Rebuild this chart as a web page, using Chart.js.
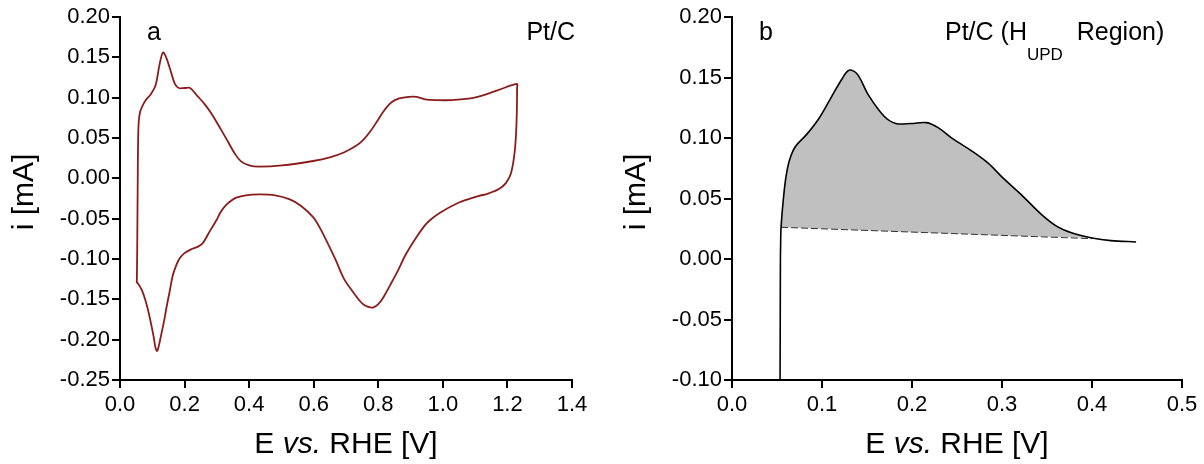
<!DOCTYPE html>
<html>
<head>
<meta charset="utf-8">
<script src="https://cdn.jsdelivr.net/npm/chart.js@4.4.1/dist/chart.umd.min.js"></script>
<style>
  html, body { margin: 0; padding: 0; background: #fff; }
  #wrap { position: relative; width: 1204px; height: 464px; overflow: hidden; }
  #ca { position: absolute; left: 0; top: 0; }
  #cb { position: absolute; left: 600px; top: 0; }
</style>
</head>
<body>
<div id="wrap">
  <canvas id="ca" width="600" height="464"></canvas>
  <canvas id="cb" width="604" height="464"></canvas>
</div>
<script>
// ---------- Data: panel a (full CV, Pt/C) ----------
const cvE = [0.052,0.053,0.054,0.055,0.056,0.058,0.062,0.070,0.080,0.095,0.110,0.122,0.133,0.143,0.157,0.170,0.182,0.200,0.217,0.240,0.262,0.282,0.312,0.335,0.355,0.375,0.400,0.431,0.502,0.598,0.650,0.693,0.730,0.752,0.775,0.800,0.820,0.840,0.865,0.895,0.919,0.945,0.980,1.026,1.098,1.169,1.229,
  1.230,1.229,1.226,1.220,1.210,1.195,1.175,1.140,1.110,1.050,0.990,0.960,0.943,0.915,0.883,0.860,0.836,0.815,0.800,0.785,0.776,0.760,0.745,0.720,0.693,0.670,0.645,0.620,0.598,0.560,0.526,0.480,0.431,0.390,0.360,0.340,0.324,0.310,0.300,0.288,0.276,0.265,0.255,0.240,0.220,0.199,0.185,0.175,0.163,0.154,0.145,0.136,0.127,0.120,0.115,0.110,0.104,0.095,0.086,0.077,0.068,0.060,0.055,0.052];
const cvI = [-0.130,-0.100,-0.050,0.000,0.045,0.070,0.082,0.090,0.097,0.104,0.115,0.140,0.156,0.150,0.133,0.117,0.112,0.112,0.112,0.102,0.092,0.081,0.061,0.045,0.031,0.021,0.016,0.0145,0.016,0.0215,0.026,0.032,0.040,0.047,0.058,0.073,0.085,0.094,0.099,0.101,0.101,0.098,0.097,0.097,0.100,0.109,0.117,
  0.112,0.080,0.050,0.025,0.005,-0.006,-0.013,-0.019,-0.022,-0.030,-0.043,-0.052,-0.059,-0.075,-0.096,-0.115,-0.133,-0.148,-0.156,-0.160,-0.160,-0.158,-0.153,-0.140,-0.124,-0.103,-0.082,-0.062,-0.048,-0.034,-0.026,-0.021,-0.020,-0.021,-0.024,-0.029,-0.035,-0.043,-0.051,-0.059,-0.067,-0.075,-0.081,-0.085,-0.088,-0.093,-0.099,-0.107,-0.121,-0.140,-0.158,-0.178,-0.195,-0.208,-0.214,-0.210,-0.196,-0.178,-0.162,-0.149,-0.139,-0.133,-0.130,-0.128];
const xTicksA = [0.0,0.2,0.4,0.6,0.8,1.0,1.2,1.4];
const yTicksA = [-0.25,-0.20,-0.15,-0.10,-0.05,0.00,0.05,0.10,0.15,0.20];

// ---------- Data: panel b (H_UPD region) ----------
const hE = [0.0534,0.0536,0.0538,0.0540,0.0545,0.057,0.060,0.064,0.0705,0.083,0.096,0.109,0.122,0.130,0.139,0.152,0.169,0.182,0.199,0.216,0.229,0.246,0.267,0.284,0.301,0.323,0.344,0.361,0.378,0.400,0.421,0.449];
const hI = [-0.100,-0.050,0.000,0.0105,0.026,0.049,0.068,0.082,0.093,0.103,0.1155,0.132,0.1486,0.156,0.153,0.135,0.118,0.112,0.112,0.1127,0.1086,0.099,0.089,0.0796,0.067,0.052,0.0367,0.027,0.0215,0.0174,0.0152,0.0141];
const baseE = [0.0545,0.400];
const baseI = [0.0262,0.0168];
const xTicksB = [0.0,0.1,0.2,0.3,0.4,0.5];
const yTicksB = [-0.10,-0.05,0.00,0.05,0.10,0.15,0.20];

const FONT = "'Liberation Sans', Arial, sans-serif";
const pts = (xs, ys) => xs.map((x, i) => ({x: x, y: ys[i]}));
const fmt = (d) => (v) => (Math.abs(v) < 1e-9 ? 0 : v).toFixed(d);

function drawParts(ctx, parts, x, y, align) {
  let total = 0;
  parts.forEach(p => { ctx.font = p.f; p.w = ctx.measureText(p.t).width; total += p.w; });
  let cx = align === 'center' ? x - total / 2 : (align === 'right' ? x - total : x);
  parts.forEach(p => { ctx.font = p.f; ctx.fillText(p.t, cx, y + (p.dy || 0)); cx += p.w; });
}

const textPlugin = {
  id: 'texts',
  afterDraw(chart, args, opts) {
    const ctx = chart.ctx, a = chart.chartArea;
    ctx.save();
    ctx.fillStyle = '#000';
    ctx.textBaseline = 'middle';
    drawParts(ctx, [
      {t: 'E ', f: '30px ' + FONT},
      {t: 'vs.', f: 'italic 30px ' + FONT},
      {t: ' RHE [V]', f: '30px ' + FONT}
    ], (a.left + a.right) / 2, 445, 'center');
    ctx.save();
    ctx.translate(a.left - 95.5, 192);
    ctx.rotate(-Math.PI / 2);
    ctx.textAlign = 'center';
    ctx.font = '30px ' + FONT;
    ctx.fillText('i [mA]', 0, 0);
    ctx.restore();
    ctx.textBaseline = 'alphabetic';
    ctx.textAlign = 'left';
    drawParts(ctx, [{t: opts.letter, f: '25px ' + FONT}], a.left + 27, 40, 'left');
    if (opts.sub) {
      drawParts(ctx, [
        {t: 'Pt/C (H', f: '25px ' + FONT},
        {t: 'UPD', f: '17px ' + FONT, dy: 20},
        {t: '  Region)', f: '25px ' + FONT}
      ], opts.titleX, 40, 'left');
    } else {
      drawParts(ctx, [{t: 'Pt/C', f: '25px ' + FONT}], opts.titleX, 40, 'right');
    }
    ctx.restore();
  }
};

function axisCfg(min, max, ticksArr, dec, isY, fitSize) {
  return {
    type: 'linear',
    min: min, max: max,
    afterBuildTicks: (s) => { s.ticks = ticksArr.map(v => ({value: v})); },
    afterFit: (s) => { if (isY) s.width = fitSize; else s.height = fitSize; },
    grid: { display: true, drawOnChartArea: false, drawTicks: true, tickLength: 8,
            color: '#000', tickColor: '#000', lineWidth: 2, tickWidth: 2 },
    border: { display: true, color: '#000', width: 2 },
    ticks: { autoSkip: false, maxRotation: 0, padding: isY ? 2 : 4, color: '#000',
             font: { family: FONT, size: 22 }, callback: fmt(dec) }
  };
}

Chart.defaults.animation = false;

new Chart(document.getElementById('ca'), {
  type: 'scatter',
  data: { datasets: [{
    data: pts(cvE, cvI), showLine: true, borderColor: '#8a1c1c', borderWidth: 1.8,
    pointRadius: 0, tension: 0.35, fill: false
  }]},
  options: {
    responsive: false, devicePixelRatio: 1,
    layout: { padding: { left: 0, top: 17, right: 28, bottom: 0 } },
    plugins: { legend: { display: false }, tooltip: { enabled: false },
               texts: { letter: 'a', titleX: 575, sub: false } },
    scales: {
      x: axisCfg(0, 1.4, xTicksA, 1, false, 84),
      y: axisCfg(-0.25, 0.20, yTicksA, 2, true, 120)
    }
  },
  plugins: [textPlugin]
});

const fillPoly = pts(hE.slice(4, 30), hI.slice(4, 30)).concat([{x: baseE[0], y: baseI[0]}]);

new Chart(document.getElementById('cb'), {
  type: 'scatter',
  data: { datasets: [
    { data: pts(hE, hI), showLine: true, borderColor: '#000', borderWidth: 1.6,
      pointRadius: 0, tension: 0.35, fill: false, order: 0 },
    { data: pts(baseE, baseI), showLine: true, borderColor: '#333', borderWidth: 1,
      borderDash: [7, 3], pointRadius: 0, fill: false, order: 1 },
    { data: fillPoly, showLine: true, borderWidth: 0, borderColor: 'rgba(0,0,0,0)',
      backgroundColor: '#c0c0c0', pointRadius: 0, tension: 0.35, fill: 'shape', order: 2 }
  ]},
  options: {
    responsive: false, devicePixelRatio: 1,
    layout: { padding: { left: 0, top: 17, right: 22, bottom: 0 } },
    plugins: { legend: { display: false }, tooltip: { enabled: false },
               texts: { letter: 'b', titleX: 345, sub: true } },
    scales: {
      x: axisCfg(0, 0.5, xTicksB, 1, false, 84),
      y: axisCfg(-0.10, 0.20, yTicksB, 2, true, 132)
    }
  },
  plugins: [textPlugin]
});
</script>
</body>
</html>
